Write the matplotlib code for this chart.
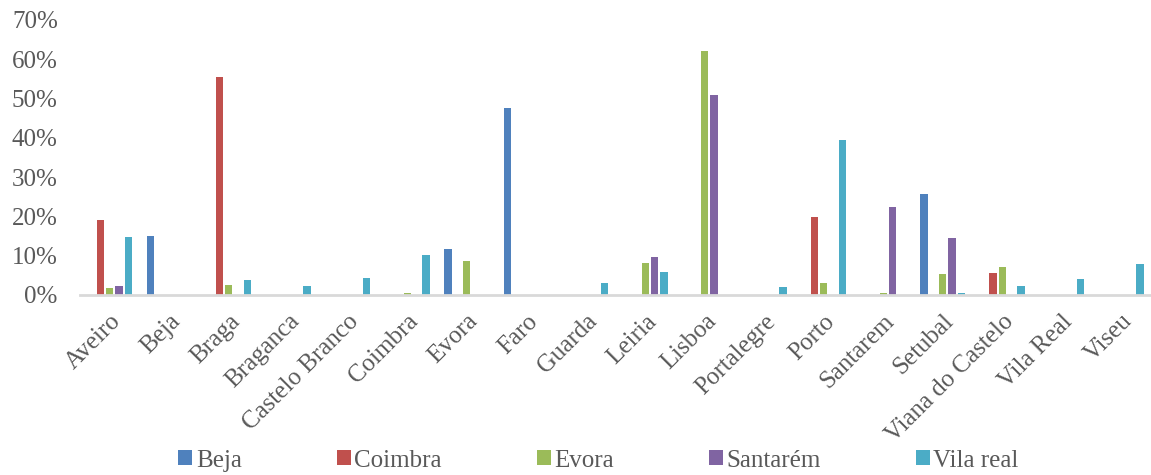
import numpy as np
import matplotlib.pyplot as plt
from matplotlib.ticker import PercentFormatter

districts = ["Aveiro", "Beja", "Braga", "Braganca", "Castelo Branco", "Coimbra",
             "Evora", "Faro", "Guarda", "Leiria", "Lisboa", "Portalegre", "Porto",
             "Santarem", "Setubal", "Viana do Castelo", "Vila Real", "Viseu"]

series_names = ["Beja", "Coimbra", "Evora", "Santarém", "Vila real"]

beja = [0, 15.1, 0, 0, 0, 0, 11.7, 47.7, 0, 0, 0, 0, 0, 0, 25.6, 0, 0, 0]
coimbra = [19.2, 0, 55.4, 0, 0, 0, 0, 0, 0, 0, 0, 0, 19.8, 0, 0, 5.5, 0, 0]
evora = [1.7, 0, 2.6, 0, 0, 0.4, 8.7, 0, 0, 8.2, 62.2, 0, 3.0, 0.4, 5.3, 7.0, 0, 0]
santarem = [2.2, 0, 0, 0, 0, 0, 0, 0, 0, 9.7, 51.0, 0, 0, 22.5, 14.6, 0, 0, 0]
vila_real = [14.7, 0, 3.7, 2.2, 4.4, 10.1, 0, 0, 3.0, 5.8, 0, 2.0, 39.4, 0, 0.4, 2.2, 4.0, 7.8]

colors = ["#4F81BD", "#C0504D", "#9BBB59", "#8064A2", "#4BACC6"]

plt.rcParams["font.family"] = ["Liberation Serif", "DejaVu Serif"]

fig = plt.figure(figsize=(11.51, 4.75), dpi=100)
ax = fig.add_axes([0.0695, 0.379, 0.9305, 0.579])

x = np.arange(len(districts))
slot = 0.156
width = 0.125
all_series = [beja, coimbra, evora, santarem, vila_real]
for j, (name, vals, c) in enumerate(zip(series_names, all_series, colors)):
    ax.bar(x + (j - 2) * slot, vals, width=width, color=c, label=name)

ax.set_xlim(-0.5, len(districts) - 0.5)
ax.set_ylim(0, 70)
ax.set_yticks(np.arange(0, 71, 10))
ax.yaxis.set_major_formatter(PercentFormatter(decimals=0))
ax.set_xticks(x)
ax.set_xticklabels(districts, rotation=45, ha="right", rotation_mode="anchor")
ax.tick_params(axis="both", length=0, labelsize=18, colors="#595959")
ax.tick_params(axis="y", pad=16)
ax.tick_params(axis="x", pad=11)

for s in ["top", "right", "left"]:
    ax.spines[s].set_visible(False)
ax.spines["bottom"].set_color("#D9D9D9")
ax.spines["bottom"].set_linewidth(2)

leg = fig.legend(loc="center", bbox_to_anchor=(0.52, 0.03), ncol=5, frameon=False,
                 fontsize=18, handlelength=0.55, handleheight=0.55, handletextpad=0.15,
                 columnspacing=3.8)
for t in leg.get_texts():
    t.set_color("#595959")

fig.savefig("out.png", dpi=100)
